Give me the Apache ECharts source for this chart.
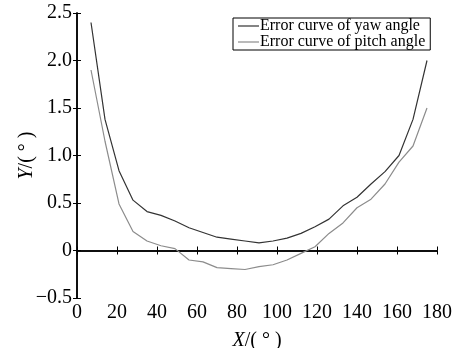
<!DOCTYPE html>
<html>
<head>
<meta charset="utf-8">
<style>
  html, body { margin: 0; padding: 0; background: #fff; }
  #chart { width: 465px; height: 348px; }
</style>
<script src="https://cdn.jsdelivr.net/npm/echarts@6/dist/echarts.min.js"></script>
</head>
<body>
<div id="chart"></div>
<script>
// 横轴角度（每 7° 一个点）
const xAngles = [7, 14, 21, 28, 35, 42, 49, 56, 63, 70, 77, 84, 91, 98, 105, 112, 119, 126, 133, 140, 147, 154, 161, 168, 175];
// 偏航角误差
const yawError = [2.40, 1.38, 0.84, 0.53, 0.41, 0.37, 0.31, 0.24, 0.19, 0.14, 0.12, 0.10, 0.08, 0.10, 0.13, 0.18, 0.25, 0.33, 0.47, 0.56, 0.70, 0.83, 1.00, 1.38, 2.00];
// 俯仰角误差
const pitchError = [1.90, 1.15, 0.49, 0.20, 0.10, 0.05, 0.02, -0.10, -0.12, -0.18, -0.19, -0.20, -0.17, -0.15, -0.10, -0.03, 0.04, 0.18, 0.29, 0.45, 0.54, 0.70, 0.93, 1.10, 1.50];
const seriesNames = ['Error curve of yaw angle', 'Error curve of pitch angle'];

const FONT = '"Liberation Serif", "DejaVu Serif", serif';

const fmtY = (v) => {
  if (Math.abs(v) < 1e-9) return '0';
  const s = Math.abs(v).toFixed(1);
  return v < 0 ? '\u2212' + s : s;
};

const pair = (xs, ys) => xs.map((x, i) => [x, ys[i]]);

const chart = echarts.init(document.getElementById('chart'));

const axisLine = { show: true, lineStyle: { color: '#000', width: 1.5 } };
const tick = { show: true, inside: true, length: 4, lineStyle: { color: '#000', width: 1 } };
const nameStyle = {
  fontFamily: FONT, fontSize: 20, color: '#000',
  rich: { i: { fontFamily: FONT, fontSize: 20, fontStyle: 'italic', color: '#000' } },
};

const option = {
  animation: false,
  grid: { left: 77, right: 28, top: 13, bottom: 50, containLabel: false, outerBoundsMode: 'none' },
  legend: {
    data: seriesNames,
    orient: 'vertical',
    left: 233,
    top: 18,
    icon: 'rect',
    itemWidth: 21,
    itemHeight: 1.2,
    itemGap: 0,
    padding: [0, 5, 0, 5],
    borderColor: '#000',
    borderWidth: 1,
    backgroundColor: '#fff',
    textStyle: { fontFamily: FONT, fontSize: 16, color: '#000', padding: [0, 0, 0, -4], lineHeight: 16 },
  },
  xAxis: [
    {
      type: 'value',
      min: 0,
      max: 180,
      interval: 20,
      position: 'bottom',
      name: '{i|X}/( \u00b0 )',
      nameLocation: 'middle',
      nameGap: 33,
      nameMoveOverlap: false,
      nameTextStyle: nameStyle,
      axisLine,
      axisTick: tick,
      axisLabel: { fontFamily: FONT, fontSize: 20, color: '#000', margin: 5 },
      splitLine: { show: false },
    },
    {
      type: 'value',
      min: 0,
      max: 180,
      interval: 20,
      position: 'top',
      axisLine,
      axisTick: tick,
      axisLabel: { show: false },
      splitLine: { show: false },
    },
  ],
  yAxis: [
    {
      type: 'value',
      min: -0.5,
      max: 2.5,
      interval: 0.5,
      position: 'left',
      name: '{i|Y}/( \u00b0 )',
      nameLocation: 'middle',
      nameGap: 40,
      nameMoveOverlap: false,
      nameTextStyle: nameStyle,
      axisLine,
      axisTick: tick,
      axisLabel: { fontFamily: FONT, fontSize: 20, color: '#000', margin: 5, formatter: fmtY },
      splitLine: { show: false },
    },
    {
      type: 'value',
      min: -0.5,
      max: 2.5,
      interval: 0.5,
      position: 'right',
      axisLine,
      axisTick: tick,
      axisLabel: { show: false },
      splitLine: { show: false },
    },
  ],
  series: [
    {
      name: seriesNames[0],
      type: 'line',
      data: pair(xAngles, yawError),
      symbol: 'none',
      lineStyle: { color: '#333', width: 1.2 },
      itemStyle: { color: '#333' },
    },
    {
      name: seriesNames[1],
      type: 'line',
      data: pair(xAngles, pitchError),
      symbol: 'none',
      lineStyle: { color: '#8c8c8c', width: 1.2 },
      itemStyle: { color: '#8c8c8c' },
    },
  ],
};

chart.setOption(option);
</script>
</body>
</html>
